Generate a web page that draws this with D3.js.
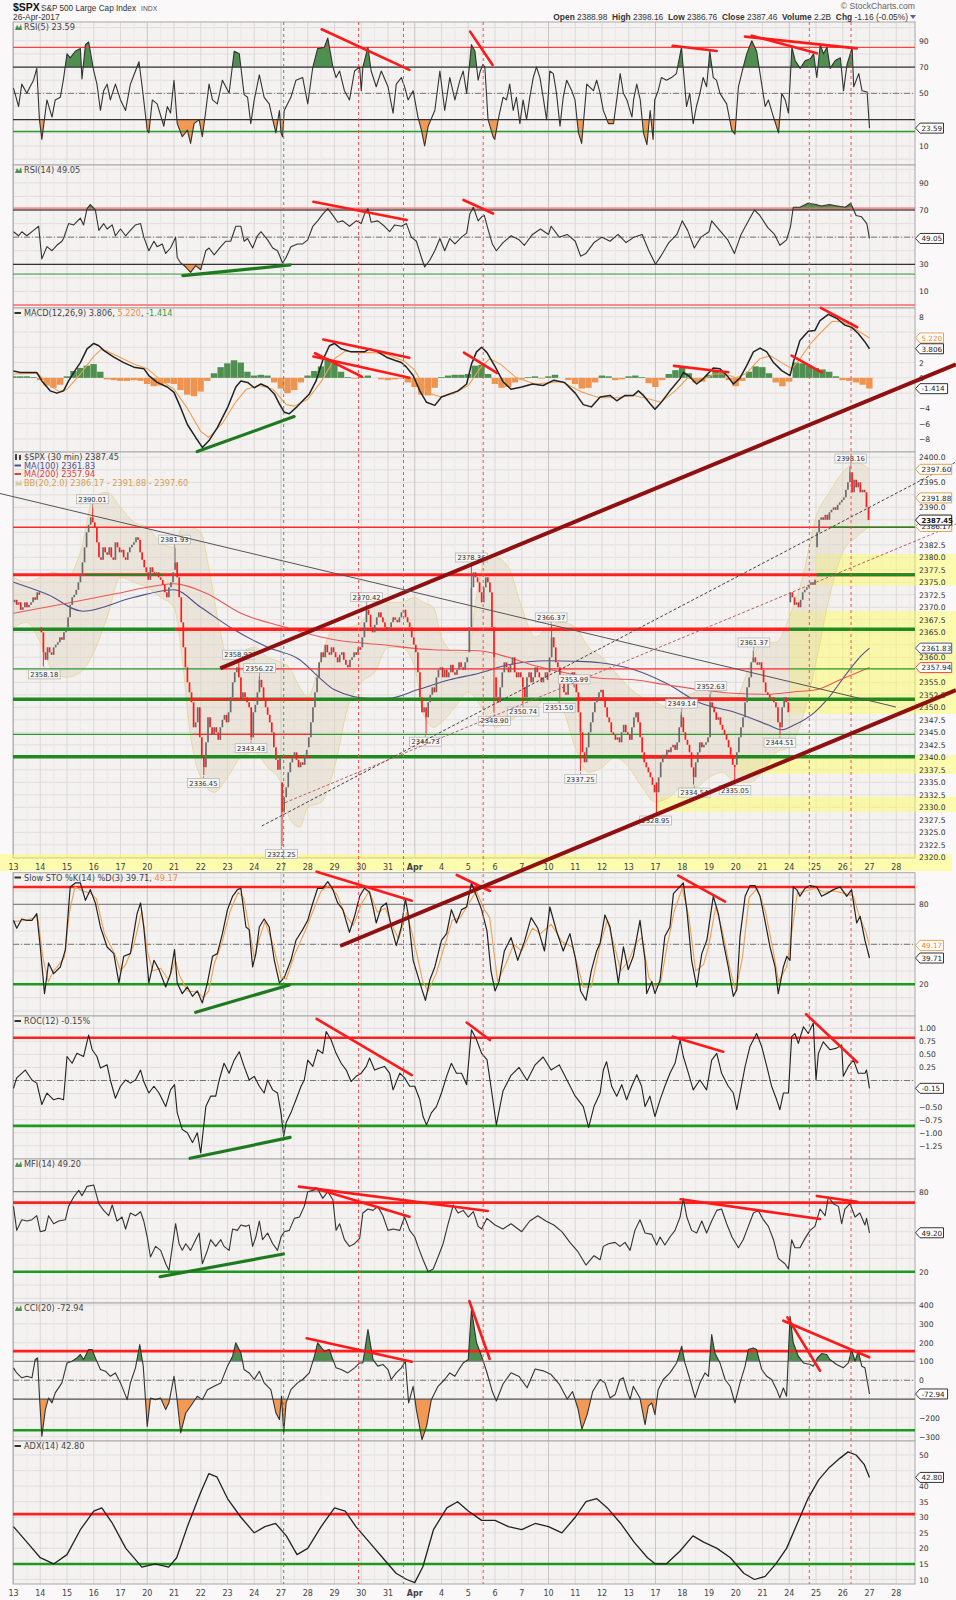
<!DOCTYPE html>
<html><head><meta charset="utf-8">
<script src="https://cdn.jsdelivr.net/npm/d3@7"></script>
<style>body{margin:0;background:#faf8f8}text{font-family:"DejaVu Sans",Verdana,sans-serif}</style>
</head><body><svg id="c" width="956" height="1600"></svg>
<script>
// ---------------- DATA ----------------
const dayLabels = ["13","14","15","16","17","20","21","22","23","24","27","28","29","30","31","Apr","4","5","6","7","10","11","12","13","17","18","19","20","21","24","25","26","27","28"];
const weekStarts = [0,5,10,15,20,24,29];

const dayOpens = [2371,2366,2366,2387,2381,2377,2377.5,2344,2347,2349,2335,2342,2361,2362,2365.5,2362.5,2358,2361,2356,2356,2357,2356,2353.5,2344.5,2335,2348,2344,2338.5,2357.5,2371,2382,2391.5];
const closes = [
2371.5,2370.5,2371,2369.5,2370,2371,2370,2370.5,2371,2372,2371.5,2373,2372.5,
2365,2361,2359.5,2362,2361,2360.5,2362,2362.5,2363,2364,2363.5,2365,2365.5,
2368,2370.5,2372,2372.5,2373.5,2375,2376.5,2379,2382,2385,2386.5,2388,2387,
2386,2383,2380,2379.5,2382,2381,2380.5,2382,2380,2379.5,2383,2382,2381,
2381.5,2380,2379.5,2381,2382,2382.5,2383,2384,2383.5,2381,2379.5,2378,2377,
2375.5,2378,2377,2376.5,2377,2376,2375.5,2374.5,2373,2372,2374,2375,2377,
2379,2376,2372,2367,2362,2358,2355,2353,2351,2346,2347,2350,2344,
2340,2338,2343,2348,2346,2344.5,2346,2345,2343.5,2346,2347.5,2348.5,2347,
2349,2352,2355,2357,2358,2356,2351.5,2353,2352,2351,2350,2344,2349,
2350.5,2353,2355.5,2354,2351.5,2350,2348.5,2347,2345,2342,2339.5,2337.5,2340,
2329,2332,2334,2337,2339,2340,2341,2339.5,2338,2339,2338.5,2340.5,2341.5,
2344,2347,2350,2353,2356,2359,2361,2360,2362.5,2361,2360.5,2362,2361,
2360,2359,2360.5,2361,2359.5,2358.5,2358,2359.5,2360,2361,2360.5,2362,2361.5,
2364,2367,2369.5,2368.5,2366,2365,2366.5,2368,2369,2368,2367,2366,2365.5,
2366,2367,2368,2367.5,2367,2368,2369,2369.5,2368,2367,2366,2364,2362.5,
2361,2357,2352,2349,2350,2348,2351,2352.5,2354,2353,2356,2357.5,2358,
2356,2357.5,2356,2357,2358.5,2357,2356.5,2357.5,2359,2358,2357.5,2359,2360,
2366,2374,2377,2376,2375,2373,2371,2374,2376,2375,2373,2366,2360,
2352,2351,2354,2357,2359,2358,2357,2358.5,2360,2357,2356,2357,2356,
2354,2352,2356,2357,2355,2356,2358,2357,2356,2355,2356,2357,2355.5,
2360,2364,2362,2359,2358,2356,2355,2353,2352.5,2355,2356,2357,2356,
2353,2349,2345,2341,2339,2342,2345,2347,2349,2351,2352,2353,2353.5,
2352,2350,2348,2347,2345,2344.5,2343.5,2344,2343,2345,2346.5,2345,2344.5,
2343.5,2346,2348,2349,2347,2344,2341,2339,2338,2337,2336,2334.5,2333,
2333,2336,2339,2340.5,2340,2341.5,2341,2342,2342.5,2341.5,2343,2346,2348.5,
2345,2343.5,2342.5,2341,2338,2336,2339,2341,2343,2342,2342.5,2343,2344,
2351,2350,2349,2347.5,2348,2346.5,2345.5,2344.5,2343.5,2342,2340.5,2338.5,2338,
2341,2344,2346,2348,2351,2354,2356,2359,2360,2359,2358.5,2359,2357.5,
2355,2353,2352.5,2351.5,2352,2351,2350,2347,2346,2350,2352,2351,2349,
2373,2372,2370.5,2371,2370,2371.5,2373,2373.5,2374,2374.5,2375,2374.5,2375.5,
2385,2387.5,2388,2387.5,2388.5,2387.5,2389,2389.5,2390,2389.5,2390.5,2391,2391.5,
2392,2393.5,2395,2397,2393,2395.5,2394,2395,2393,2393.5,2393,2390,2387.45];

const priceLabels = [["2390.01",2.95,2390.01,"h"],["2381.93",6.02,2381.93,"h"],["2358.18",1.15,2358.18,"l"],["2358.92",8.4,2358.92,"h"],
["2356.22",9.2,2356.22,"h"],["2343.43",8.88,2343.43,"l"],["2336.45",7.1,2336.45,"l"],["2322.25",10.02,2322.25,"l"],["2370.42",13.2,2370.42,"h"],
["2344.73",15.4,2344.73,"l"],["2378.36",17.12,2378.36,"h"],["2348.90",17.98,2348.90,"l"],["2350.74",19.05,2350.74,"l"],["2366.37",20.1,2366.37,"h"],
["2351.50",20.4,2351.50,"l"],["2353.99",20.96,2353.99,"h"],["2337.25",21.2,2337.25,"l"],["2328.95",24.0,2328.95,"l"],["2349.14",24.98,2349.14,"h"],
["2334.54",25.45,2334.54,"l"],["2352.63",26.07,2352.63,"h"],["2335.05",26.97,2335.05,"l"],["2361.37",27.68,2361.37,"h"],["2344.51",28.65,2344.51,"l"],["2398.16",31.3,2398.16,"h"]];

const ma100 = [[0,2375],[1.3,2372.5],[2.6,2369.2],[4.5,2372],[6.0,2373.5],[7.0,2370],[8.25,2365.5],[9.5,2362],[10.7,2359.5],[11.4,2356.1],[12,2353.5],[13.3,2351.8],[14,2351.8],[15.1,2353.5],[16.3,2355.5],[17.4,2356.8],[18.5,2358.5],[20,2359.3],[21,2359.2],[21.93,2358.9],[23.2,2357.5],[24.4,2354.8],[25.7,2350.8],[26.9,2349.1],[28.2,2346.5],[28.7,2345.5],[29.2,2346.5],[29.9,2348.8],[30.5,2352.1],[31.15,2356.8],[31.65,2360.1],[32,2361.83]];
const ma200 = [[0,2368.8],[2,2370.8],[3.9,2372.8],[5.1,2374.1],[6,2374.7],[7.2,2372.8],[8.5,2368.8],[10.1,2366.1],[12,2363.5],[13.8,2362.5],[15.7,2361.5],[17.4,2361.3],[18.5,2360],[19.5,2358.3],[21,2356.5],[21.93,2355.8],[23.2,2355.5],[24.4,2354.5],[25.7,2353.5],[26.9,2352.8],[28.2,2352.6],[29.2,2353.1],[30,2353.5],[30.9,2355.5],[32,2357.94]];
const bbUpper = [[0,2376],[0.5,2375],[1,2376],[1.5,2377],[2,2376],[2.5,2381],[3,2392],[3.5,2393],[4,2390],[4.5,2387],[5,2386],[5.5,2383],[6,2382],[6.3,2386],[6.6,2386],[7,2385],[7.3,2378],[7.7,2366],[8,2360],[8.5,2361],[9,2362],[9.5,2360],[10,2359],[10.3,2358],[10.7,2354],[11,2352],[11.5,2360],[12,2366],[12.5,2366],[13,2367],[13.5,2371],[14,2371],[14.5,2371],[15,2372],[15.3,2371],[15.7,2370],[16,2364],[16.5,2361],[17,2361],[17.3,2372],[17.7,2380],[18,2380],[18.5,2378],[19,2370],[19.5,2364],[20,2366],[20.5,2367],[21,2366],[21.5,2362],[22,2360],[22.5,2357],[23,2354],[23.5,2352],[24,2351],[24.5,2350],[25,2352],[25.5,2353],[26,2354],[26.5,2353],[27,2352],[27.5,2358],[28,2363],[28.5,2363],[29,2368],[29.5,2376],[30,2388],[30.5,2393],[31,2397],[31.5,2399],[32,2397.6]];
const bbLower = [[0,2366],[0.5,2367],[1,2363],[1.5,2357],[2,2356],[2.5,2357],[3,2361],[3.5,2368],[4,2376],[4.5,2375],[5,2374],[5.5,2372],[6,2370],[6.3,2360],[6.6,2345],[7,2336],[7.5,2333],[8,2336],[8.5,2340],[9,2341],[9.5,2338],[10,2335],[10.3,2328],[10.7,2326],[11,2330],[11.5,2331],[12,2338],[12.5,2350],[13,2355],[13.5,2357],[14,2362],[14.5,2362],[15,2358],[15.3,2349],[15.7,2346],[16,2347],[16.5,2350],[17,2353],[17.5,2350],[18,2346],[18.5,2347],[19,2349],[19.5,2350],[20,2352],[20.5,2350],[21,2342],[21.5,2337],[22,2338],[22.5,2340],[23,2338],[23.5,2334],[24,2331],[24.5,2332],[25,2334],[25.5,2334],[26,2336],[26.5,2337],[27,2335],[27.5,2335],[28,2337],[28.5,2341],[29,2342],[29.5,2348],[30,2359],[30.5,2372],[31,2381],[31.5,2384],[32,2386.17]];

const rsi5 = [[0,54],[0.19,40],[0.31,57],[0.5,50],[0.62,55],[0.75,60],[0.87,69],[0.97,30],[1.06,15],[1.25,45],[1.44,32],[1.56,45],[1.75,47],[1.87,61],[2.0,80],[2.12,77],[2.31,82],[2.5,84],[2.56,61],[2.69,87],[2.81,89],[3.0,67],[3.12,57],[3.25,37],[3.37,52],[3.5,57],[3.62,45],[3.81,57],[4.0,45],[4.19,37],[4.37,57],[4.56,67],[4.69,74],[4.81,55],[5.0,22],[5.06,20],[5.19,45],[5.37,42],[5.62,25],[5.75,40],[5.87,35],[6.0,60],[6.12,27],[6.31,17],[6.5,22],[6.62,12],[6.75,27],[6.94,30],[7.06,17],[7.19,37],[7.31,57],[7.44,45],[7.62,42],[7.81,60],[8.06,50],[8.25,82],[8.44,80],[8.5,70],[8.62,49],[8.75,47],[8.87,27],[9.0,45],[9.19,64],[9.37,47],[9.56,42],[9.69,30],[9.81,20],[9.94,37],[10.0,20],[10.06,17],[10.12,37],[10.37,47],[10.56,60],[10.81,62],[11.0,42],[11.19,70],[11.37,84],[11.62,85],[11.75,92],[11.94,70],[12.06,62],[12.19,67],[12.37,52],[12.56,45],[12.75,67],[12.94,70],[13.0,52],[13.06,70],[13.25,85],[13.37,67],[13.56,55],[13.75,67],[14.0,55],[14.19,35],[14.31,57],[14.5,62],[14.62,55],[14.75,45],[14.94,52],[15.12,32],[15.25,22],[15.37,10],[15.5,25],[15.75,37],[15.94,67],[16.12,37],[16.31,62],[16.5,45],[16.69,60],[16.81,67],[16.94,50],[17.12,87],[17.25,82],[17.37,60],[17.45,67],
[17.55,72],[17.62,70],[17.74,30],[17.93,17],[17.99,15],[18.12,30],[18.3,47],[18.43,45],[18.55,57],[18.68,37],[18.8,47],[18.93,27],[19.05,45],[19.18,30],[19.3,47],[19.43,62],[19.55,70],[19.68,62],[19.8,47],[19.93,30],[20.05,67],[20.18,65],[20.3,50],[20.43,25],[20.55,47],[20.68,60],[20.87,52],[20.99,45],[21.12,20],[21.24,12],[21.43,57],[21.68,52],[21.8,60],[21.93,50],[22.05,37],[22.24,27],[22.43,27],[22.55,45],[22.68,65],[22.8,50],[22.93,45],[23.12,32],[23.18,45],[23.3,57],[23.43,45],[23.55,20],[23.68,11],[23.8,37],[23.91,15],[23.97,45],[24.1,52],[24.22,62],[24.41,60],[24.6,62],[24.78,65],[24.97,85],[25.16,40],[25.28,50],[25.41,27],[25.53,40],[25.66,50],[25.78,62],[25.91,55],[26.03,82],[26.16,62],[26.28,60],[26.41,50],[26.66,42],[26.85,22],[26.97,19],[27.1,55],[27.28,70],[27.41,80],[27.6,90],[27.78,82],[27.97,57],[28.1,40],[28.22,45],[28.41,32],[28.6,20],[28.72,50],[28.85,45],[28.97,35],[29.1,85],[29.22,75],[29.41,69],[29.6,75],[29.78,76],[29.91,80],[30.03,62],[30.16,87],[30.28,80],[30.41,85],[30.53,69],[30.72,75],[30.91,77],[31.03,52],[31.16,72],[31.28,80],[31.35,85],[31.41,55],[31.6,65],[31.72,52],[31.91,51],[32.0,23.59]];

const rsi14 = [[0,54],[0.19,51],[0.31,54],[0.5,51],[0.75,55],[0.94,58],[1.06,34],[1.25,43],[1.44,40],[1.62,44],[1.81,47],[1.87,49],[2.06,60],[2.25,59],[2.5,64],[2.62,59],[2.75,71],[2.87,74],[3.06,70],[3.19,55],[3.37,60],[3.5,56],[3.69,59],[3.81,51],[4.0,56],[4.19,51],[4.37,55],[4.56,59],[4.75,60],[4.87,50],[5.06,40],[5.25,47],[5.37,43],[5.56,45],[5.69,38],[5.87,42],[6.06,50],[6.12,35],[6.25,31],[6.44,28],[6.62,24],[6.81,29],[7.0,26],[7.19,40],[7.31,42],[7.5,37],[7.75,43],[7.94,47],[8.12,47],[8.31,58],[8.5,58],[8.62,47],[8.75,49],[8.94,42],[9.12,51],[9.25,54],[9.5,48],[9.69,42],[9.87,40],[10.06,31],[10.19,35],[10.37,43],[10.62,45],[10.81,45],[11.0,48],[11.19,58],[11.37,62],[11.56,67],[11.75,71],[11.94,66],[12.12,61],[12.31,62],[12.56,58],[12.81,62],[13.0,60],[13.12,67],[13.25,71],[13.37,61],[13.62,62],[13.87,58],[14.06,54],[14.25,59],[14.5,58],[14.69,60],[14.87,50],[15.06,47],[15.25,35],[15.37,28],[15.56,33],[15.75,40],[15.94,49],[16.12,40],[16.31,49],[16.5,45],[16.75,50],[16.94,53],[17.06,67],[17.19,72],[17.37,62],[17.5,65],
[17.6,66],[17.75,55],[17.9,45],[18.05,40],[18.3,46],[18.6,51],[18.9,48],[19.1,44],[19.4,52],[19.7,56],[20.0,52],[20.1,58],[20.4,50],[20.7,52],[21.0,47],[21.2,36],[21.4,38],[21.7,46],[22.0,50],[22.3,47],[22.6,52],[22.9,46],[23.2,50],[23.5,52],[23.75,40],[24.0,30],[24.2,36],[24.5,46],[24.8,52],[25.0,62],[25.2,55],[25.45,42],[25.7,50],[26.0,54],[26.1,62],[26.4,55],[26.7,48],[26.95,38],[27.2,52],[27.5,63],[27.7,70],[27.9,66],[28.2,57],[28.45,52],[28.65,44],[28.9,48],[29.05,58],[29.15,72],[29.4,72],[29.7,75],[30.0,74],[30.2,73],[30.5,74],[30.8,73],[31.1,72],[31.3,75],[31.5,66],[31.7,65],[31.9,60],[32.0,49.05]];

const macdLine = [[0,0.9],[0.25,0.7],[0.5,0.7],[0.87,0.7],[1.06,-0.4],[1.37,-1.7],[1.62,-2.0],[1.87,-1.7],[2.06,-0.4],[2.31,1.0],[2.5,2.0],[2.75,3.8],[3.0,4.5],[3.19,4.2],[3.37,3.6],[3.75,2.7],[4.12,2.0],[4.5,1.4],[4.87,1.2],[5.06,0.3],[5.37,-0.6],[5.75,-1.2],[6.0,-1.9],[6.25,-3.9],[6.5,-6.1],[6.81,-7.8],[7.06,-9.1],[7.31,-8.2],[7.62,-6.5],[8.0,-3.9],[8.31,-1.2],[8.5,-0.4],[8.75,-0.6],[9.0,-1.3],[9.25,-0.8],[9.5,-1.2],[9.75,-2.1],[9.94,-3.4],[10.12,-4.5],[10.31,-4.7],[10.56,-3.9],[10.81,-3.0],[11.06,-2.1],[11.31,-0.4],[11.56,2.3],[11.81,4.2],[12.0,4.5],[12.25,3.8],[12.62,3.4],[12.94,3.4],[13.12,3.4],[13.31,3.8],[13.62,3.4],[13.94,2.7],[14.25,2.3],[14.5,2.0],[14.69,1.4],[14.94,0.3],[15.19,-1.7],[15.44,-3.2],[15.75,-3.6],[16.0,-2.5],[16.31,-2.1],[16.62,-1.7],[16.94,-0.8],[17.12,1.8],[17.31,3.4],[17.5,4.0],[17.7,3.3],[18.0,1.5],[18.3,-0.5],[18.6,-1.5],[19.0,-1.2],[19.4,-0.8],[19.8,-1.0],[20.2,-0.3],[20.6,-0.6],[21.0,-2.0],[21.3,-3.5],[21.6,-3.8],[21.93,-2.5],[22.3,-2.3],[22.55,-3.0],[22.86,-2.3],[23.17,-2.3],[23.36,-1.7],[23.55,-2.3],[23.8,-3.4],[23.98,-4.1],[24.17,-3.4],[24.54,-1.7],[24.92,-0.1],[25.04,0.7],[25.23,0.3],[25.54,-0.8],[25.79,-0.1],[26.16,1.3],[26.41,1.2],[26.72,0.1],[26.91,-0.8],[27.16,0.0],[27.41,1.6],[27.66,3.4],[27.91,3.9],[28.16,3.4],[28.41,2.0],[28.72,0.95],[29.03,0.3],[29.15,2.0],[29.4,4.9],[29.71,6.1],[29.96,6.2],[30.15,7.5],[30.46,8.3],[30.77,7.8],[31.08,6.9],[31.33,6.6],[31.58,5.8],[31.83,4.7],[32.0,3.806]];
const macdSignal = [[0,0.5],[0.9,0.6],[1.3,-0.8],[1.7,-1.8],[2.0,-1.5],[2.5,0.5],[3.0,2.8],[3.3,3.8],[3.8,3.0],[4.5,1.8],[5.0,1.2],[5.5,-0.3],[6.0,-1.5],[6.5,-4.0],[7.0,-7.0],[7.3,-7.8],[7.8,-6.0],[8.3,-3.2],[8.7,-1.5],[9.2,-1.0],[9.7,-1.5],[10.2,-3.5],[10.5,-3.7],[11.0,-2.8],[11.5,-0.5],[12.0,2.5],[12.4,3.5],[13.0,3.3],[13.5,3.3],[14.0,3.0],[14.6,2.2],[15.0,1.0],[15.5,-2.0],[16.0,-2.5],[16.5,-2.0],[17.0,-1.0],[17.5,1.5],[17.8,2.5],[18.2,1.8],[18.8,0.0],[19.5,-0.8],[20.5,-0.5],[21.2,-1.8],[21.9,-2.6],[22.5,-2.6],[23.2,-2.3],[23.8,-2.8],[24.2,-3.2],[24.8,-1.5],[25.2,0.0],[25.7,-0.3],[26.2,0.5],[26.6,0.5],[27.0,0.0],[27.4,0.6],[27.9,2.5],[28.3,2.9],[28.8,1.8],[29.1,1.2],[29.4,2.5],[29.8,4.5],[30.2,6.0],[30.6,7.4],[31.0,7.3],[31.5,6.3],[32.0,5.22]];
const macdHist = [0.2,0.2,0.2,0.1,-0.3,-1.0,-1.3,-0.9,0.2,0.9,1.3,1.6,1.8,0.8,-0.2,-0.3,-0.4,-0.4,-0.3,-0.4,-0.8,-1.1,-1.0,-0.7,-0.8,-1.6,-2.2,-2.4,-1.8,-0.4,0.6,1.4,1.9,2.3,2.0,0.8,0.3,0.4,0.3,-0.6,-1.4,-2.0,-1.6,-0.6,0.3,0.9,1.5,2.3,2.0,0.8,0.1,-0.1,0.1,0.3,0.0,-0.2,-0.3,-0.2,-0.1,-0.6,-1.2,-2.2,-2.3,-1.3,0.1,0.3,0.4,0.4,0.5,1.6,1.7,0.5,-0.8,-1.3,-1.2,-0.6,-0.2,0.1,0.2,-0.1,0.2,0.4,0.0,-0.3,-0.8,-1.4,-1.3,-0.6,0.3,0.2,-0.3,-0.2,0.2,0.3,0.1,-0.7,-1.2,-0.3,0.5,1.0,1.3,0.6,-0.6,-0.5,0.4,0.9,0.7,-0.3,-1.1,-0.4,0.8,1.5,1.4,0.6,-0.6,-1.1,-0.5,2.0,1.9,1.6,1.3,1.1,0.8,0.2,-0.3,-0.4,-0.6,-0.9,-1.4];

const stoK = [[0,68],[0.12,62],[0.31,69],[0.5,68],[0.69,68],[0.87,73],[1.0,48],[1.16,13],[1.31,36],[1.5,28],[1.75,33],[1.94,46],[2.12,93],[2.31,96],[2.5,96],[2.69,83],[2.87,91],[3.06,81],[3.25,63],[3.5,48],[3.75,43],[3.94,21],[4.12,41],[4.37,43],[4.62,73],[4.75,81],[4.87,63],[5.06,21],[5.25,38],[5.44,31],[5.69,18],[5.87,28],[6.02,46],[6.12,21],[6.31,13],[6.5,18],[6.69,11],[6.87,15],[7.06,6],[7.25,21],[7.44,41],[7.62,43],[7.81,58],[8.0,76],[8.19,86],[8.37,91],[8.5,92],[8.69,63],[8.81,61],[8.94,33],[9.06,43],[9.19,63],[9.37,69],[9.56,63],[9.75,38],[9.94,21],[10.12,25],[10.37,38],[10.56,53],[10.81,61],[11.0,68],[11.19,81],[11.37,92],[11.56,92],[11.75,97],[11.94,91],[12.12,81],[12.31,76],[12.56,59],[12.75,71],[12.94,86],[13.12,92],[13.31,89],[13.44,78],[13.56,66],[13.75,78],[13.94,81],[14.12,63],[14.31,49],[14.5,63],[14.65,84],[14.75,73],[14.94,38],[15.12,26],[15.27,16],[15.4,8],[15.56,23],[15.75,33],[16.0,53],[16.19,58],[16.37,76],[16.56,66],[16.75,76],[16.94,78],[17.12,96],[17.31,86],[17.5,76],
[17.7,60],[17.85,30],[18.0,15],[18.15,22],[18.35,45],[18.6,55],[18.85,38],[19.1,52],[19.35,70],[19.6,62],[19.85,45],[20.05,78],[20.3,60],[20.55,45],[20.8,58],[21.0,40],[21.2,15],[21.4,8],[21.6,30],[21.8,45],
[21.93,51],[22.11,72],[22.3,63],[22.49,38],[22.61,21],[22.8,48],[22.98,31],[23.17,41],[23.42,68],[23.61,38],[23.67,13],[23.86,22],[23.98,13],[24.17,23],[24.35,56],[24.54,63],[24.67,88],[24.85,92],[25.04,96],[25.17,76],[25.35,38],[25.54,18],[25.73,43],[25.92,53],[26.16,86],[26.35,73],[26.54,51],[26.72,33],[26.91,11],[27.04,16],[27.16,56],[27.35,86],[27.53,94],[27.72,94],[27.91,86],[28.09,68],[28.28,48],[28.47,33],[28.59,13],[28.78,33],[28.91,41],[29.03,38],[29.15,93],[29.28,91],[29.4,86],[29.59,92],[29.78,94],[30.03,93],[30.21,86],[30.4,88],[30.65,91],[30.9,93],[31.15,86],[31.33,91],[31.52,66],[31.65,71],[31.83,53],[32.0,39.71]];
const stoD = [[0,67],[0.5,68],[0.9,71],[1.1,40],[1.3,22],[1.5,30],[1.9,40],[2.1,75],[2.3,93],[2.6,90],[2.9,88],[3.1,84],[3.4,58],[3.8,42],[4.0,30],[4.2,35],[4.5,50],[4.8,75],[5.0,45],[5.2,30],[5.5,32],[5.8,23],[6.05,38],[6.2,27],[6.5,15],[6.9,14],[7.1,10],[7.3,15],[7.5,35],[7.8,52],[8.1,75],[8.4,89],[8.6,85],[8.8,63],[9.0,40],[9.2,55],[9.4,67],[9.7,50],[10.0,25],[10.2,24],[10.5,42],[10.9,60],[11.2,75],[11.5,90],[11.8,94],[12.1,87],[12.4,72],[12.7,64],[13.0,80],[13.3,90],[13.6,74],[13.9,77],[14.2,62],[14.4,54],[14.7,74],[15.0,50],[15.3,22],[15.5,15],[15.8,28],[16.1,48],[16.4,68],[16.7,70],[17.0,80],[17.3,90],[17.6,76],[17.8,70],[18.1,22],[18.4,35],[18.7,50],[19.0,45],[19.4,62],[19.7,58],[20.1,65],[20.5,52],[20.9,48],[21.3,18],[21.6,18],[21.93,50],[22.2,68],[22.5,46],[22.7,30],[23.0,38],[23.3,52],[23.5,55],[23.75,25],[24.0,18],[24.2,22],[24.4,45],[24.7,75],[25.0,92],[25.25,70],[25.5,30],[25.8,35],[26.0,50],[26.25,78],[26.5,60],[26.8,30],[27.0,15],[27.25,40],[27.5,85],[27.8,92],[28.1,75],[28.4,45],[28.6,22],[28.9,33],[29.1,60],[29.3,88],[29.6,90],[30.0,92],[30.3,89],[30.7,90],[31.1,88],[31.4,86],[31.6,72],[31.85,60],[32.0,49.17]];

const roc = [[0,-0.15],[0.12,0.05],[0.44,0.2],[0.69,0.01],[0.87,-0.05],[1.06,-0.46],[1.25,-0.24],[1.5,-0.37],[1.69,-0.34],[1.87,-0.37],[2.0,0.46],[2.19,0.33],[2.37,0.52],[2.62,0.46],[2.81,0.87],[2.94,0.59],[3.12,0.46],[3.25,0.24],[3.5,0.3],[3.62,0.01],[3.81,-0.34],[4.0,-0.11],[4.19,0.01],[4.37,-0.05],[4.56,0.01],[4.75,0.2],[4.87,-0.02],[5.06,-0.24],[5.25,-0.11],[5.44,-0.24],[5.69,-0.5],[5.87,-0.18],[6.02,-0.08],[6.12,-0.62],[6.31,-0.94],[6.5,-1.0],[6.69,-1.19],[6.87,-1.0],[7.0,-1.39],[7.19,-0.5],[7.37,-0.3],[7.56,-0.3],[7.69,0.01],[7.87,0.33],[8.06,0.14],[8.25,0.39],[8.44,0.55],[8.62,0.27],[8.81,0.01],[9.0,0.08],[9.19,-0.11],[9.37,-0.24],[9.5,0.01],[9.69,-0.18],[9.87,-0.24],[10.0,-0.62],[10.1,-1.07],[10.19,-0.81],[10.37,-0.62],[10.56,-0.37],[10.75,-0.11],[10.87,0.01],[11.0,0.39],[11.19,0.27],[11.37,0.59],[11.56,0.52],[11.69,0.94],[11.87,0.78],[12.06,0.52],[12.25,0.33],[12.44,0.2],[12.62,-0.02],[12.81,0.08],[13.0,0.14],[13.19,0.27],[13.31,0.43],[13.5,0.2],[13.69,0.24],[13.87,0.27],[14.06,0.14],[14.19,-0.18],[14.44,0.14],[14.62,0.05],[14.81,-0.11],[15.0,-0.11],[15.19,-0.37],[15.31,-0.69],[15.44,-0.85],[15.62,-0.62],[15.81,-0.5],[16.0,-0.24],[16.19,0.08],[16.37,0.33],[16.56,0.14],[16.75,0.14],[16.94,-0.08],[17.12,0.97],[17.31,0.78],[17.5,0.52],
[17.7,0.4],[17.9,-0.3],[18.05,-0.85],[18.3,-0.2],[18.6,0.1],[18.9,0.25],[19.2,0.0],[19.5,0.3],[19.8,0.45],[20.1,0.2],[20.4,0.3],[20.7,0.0],[21.0,-0.3],[21.3,-0.5],[21.5,-0.9],[21.7,-0.5],
[21.93,-0.24],[22.05,0.2],[22.17,0.36],[22.36,-0.11],[22.55,-0.3],[22.74,-0.08],[22.92,-0.37],[23.11,-0.11],[23.3,0.11],[23.48,-0.11],[23.61,-0.5],[23.79,-0.3],[23.98,-0.69],[24.17,-0.37],[24.35,-0.11],[24.54,0.14],[24.73,0.33],[24.92,0.78],[25.04,0.46],[25.23,0.14],[25.41,-0.18],[25.66,0.01],[25.91,-0.18],[26.1,0.39],[26.29,0.52],[26.47,0.14],[26.72,-0.11],[26.91,-0.24],[27.04,-0.56],[27.16,-0.24],[27.35,0.27],[27.53,0.65],[27.78,0.9],[27.97,0.65],[28.16,0.27],[28.34,-0.11],[28.53,-0.37],[28.65,-0.56],[28.78,-0.24],[28.97,-0.24],[29.09,0.84],[29.21,0.9],[29.34,0.71],[29.53,1.03],[29.71,0.9],[29.9,1.1],[30.0,0.01],[30.09,0.52],[30.27,0.74],[30.52,0.59],[30.77,0.62],[30.96,0.68],[31.02,0.08],[31.21,0.27],[31.4,0.39],[31.58,0.14],[31.83,0.14],[31.89,0.2],[32.0,-0.15]];

const mfi = [[0,69],[0.12,51],[0.31,59],[0.5,58],[0.69,59],[0.87,62],[1.0,50],[1.19,51],[1.31,62],[1.5,56],[1.69,58],[1.94,59],[2.06,69],[2.25,76],[2.44,81],[2.56,77],[2.75,84],[3.0,85],[3.19,71],[3.37,66],[3.56,62],[3.69,70],[3.87,58],[4.06,61],[4.19,52],[4.37,64],[4.56,62],[4.75,65],[4.87,58],[5.0,46],[5.12,31],[5.31,39],[5.5,36],[5.69,26],[5.81,21],[5.94,39],[6.06,56],[6.19,41],[6.31,36],[6.44,41],[6.62,36],[6.81,44],[6.94,49],[7.06,26],[7.25,36],[7.37,44],[7.56,39],[7.75,44],[7.87,39],[8.06,36],[8.19,52],[8.37,51],[8.5,55],[8.69,54],[8.81,55],[8.94,39],[9.06,46],[9.19,58],[9.31,44],[9.5,49],[9.69,41],[9.87,36],[10.0,46],[10.12,50],[10.31,51],[10.5,60],[10.69,61],[10.87,69],[11.0,80],[11.19,81],[11.37,82],[11.56,75],[11.75,80],[11.94,74],[12.06,51],[12.19,56],[12.37,44],[12.56,39],[12.75,41],[12.94,45],[13.06,64],[13.25,67],[13.44,66],[13.62,69],[13.81,62],[14.0,51],[14.19,52],[14.44,51],[14.62,61],[14.81,51],[15.0,46],[15.12,39],[15.31,29],[15.5,20],[15.69,22],[15.87,31],[16.06,41],[16.25,56],[16.44,70],[16.62,64],[16.81,66],[17.0,61],[17.19,65],[17.37,54],[17.5,52],
[17.7,60],[18.0,55],[18.3,52],[18.6,56],[19.0,50],[19.3,58],[19.6,62],[19.9,58],[20.2,55],[20.5,50],[20.8,42],[21.1,35],[21.4,25],[21.7,32],
[21.93,29],[22.05,39],[22.24,41],[22.49,42],[22.67,39],[22.86,42],[23.05,36],[23.23,51],[23.42,59],[23.61,49],[23.86,48],[24.04,40],[24.17,46],[24.35,40],[24.54,46],[24.73,51],[24.92,61],[25.04,75],[25.17,61],[25.35,51],[25.54,49],[25.73,58],[25.91,49],[26.1,58],[26.29,66],[26.47,67],[26.66,56],[26.86,46],[27.1,38],[27.28,44],[27.47,54],[27.66,64],[27.84,66],[28.03,59],[28.22,54],[28.41,44],[28.59,30],[28.84,26],[28.97,22],[29.09,44],[29.21,38],[29.4,38],[29.59,45],[29.78,51],[29.96,54],[30.15,67],[30.34,62],[30.46,76],[30.65,71],[30.84,69],[30.96,56],[31.08,67],[31.27,71],[31.46,61],[31.64,64],[31.83,55],[31.89,60],[32.0,49.2]];

const cci = [[0,66],[0.12,39],[0.31,13],[0.5,21],[0.69,13],[0.81,110],[0.9,119],[0.97,-85],[1.06,-298],[1.19,-156],[1.31,-94],[1.44,-120],[1.56,-67],[1.81,-14],[2.0,92],[2.19,101],[2.37,119],[2.5,137],[2.62,110],[2.81,163],[2.94,163],[3.06,119],[3.25,57],[3.44,48],[3.62,21],[3.81,39],[4.0,-14],[4.25,-103],[4.37,-14],[4.56,66],[4.72,190],[4.85,75],[5.0,-245],[5.12,-94],[5.31,-103],[5.5,-94],[5.69,-156],[5.81,-120],[6.0,21],[6.1,-85],[6.25,-280],[6.44,-174],[6.62,-138],[6.87,-85],[7.06,-103],[7.25,-50],[7.5,-32],[7.75,-14],[8.0,75],[8.19,128],[8.31,199],[8.5,145],[8.62,57],[8.81,39],[9.0,4],[9.19,48],[9.37,-14],[9.62,-50],[9.81,-174],[9.94,-209],[10.02,-85],[10.1,-280],[10.19,-120],[10.37,-50],[10.62,-14],[10.81,4],[11.06,39],[11.25,128],[11.37,199],[11.62,154],[11.81,163],[11.94,110],[12.06,66],[12.25,57],[12.5,39],[12.75,66],[12.94,92],[13.06,92],[13.25,270],[13.44,110],[13.62,75],[13.81,84],[14.0,57],[14.12,4],[14.31,39],[14.5,66],[14.65,101],[14.77,-120],[14.94,-32],[15.06,-156],[15.27,-316],[15.44,-245],[15.62,-103],[15.87,-32],[16.12,4],[16.31,39],[16.5,21],[16.69,66],[16.81,92],[17.0,110],[17.12,376],[17.31,199],[17.5,128],
[17.7,40],[17.9,-60],[18.05,-110],[18.3,-20],[18.6,40],[18.9,20],[19.2,-40],[19.5,60],[19.8,50],[20.1,30],[20.4,-20],[20.7,-100],[20.9,-60],[21.1,-150],[21.25,-260],[21.45,-180],[21.65,-60],
[21.93,4],[22.11,-14],[22.3,-94],[22.49,-76],[22.67,4],[22.8,13],[22.92,-50],[23.05,-103],[23.17,-32],[23.42,-94],[23.61,-236],[23.73,-138],[23.86,-120],[23.98,-183],[24.1,-50],[24.29,4],[24.54,39],[24.79,92],[24.98,181],[25.1,92],[25.29,4],[25.48,-94],[25.66,-14],[25.85,39],[25.98,21],[26.1,243],[26.22,145],[26.41,92],[26.6,4],[26.79,-32],[26.97,-120],[27.16,-14],[27.35,75],[27.47,163],[27.66,172],[27.78,163],[27.97,57],[28.16,21],[28.34,4],[28.53,-50],[28.65,-94],[28.78,-41],[28.9,-85],[29.03,340],[29.15,199],[29.34,128],[29.53,92],[29.78,84],[29.9,75],[30.05,119],[30.21,142],[30.4,137],[30.52,110],[30.77,84],[31.02,66],[31.21,92],[31.33,163],[31.46,101],[31.58,154],[31.71,75],[31.83,66],[32.0,-72.94]];

const adx = [[0,27],[0.5,22],[1.0,17],[1.5,15],[2.0,18],[2.5,26],[3.0,32],[3.3,33],[3.7,28],[4.2,20],[4.8,14],[5.3,15],[5.8,14],[6.1,17],[6.5,27],[7.0,38],[7.3,44],[7.6,43],[8.0,36],[8.5,30],[9.0,25],[9.4,27],[9.8,28],[10.2,24],[10.6,18],[11.0,20],[11.5,27],[12.0,33],[12.4,32],[12.8,27],[13.3,22],[13.8,17],[14.3,12],[14.7,10],[15.0,9],[15.3,14],[15.7,26],[16.2,33],[16.6,35],[17.0,32],[17.5,29],[18.0,29],[18.5,27],[19.0,26],[19.5,28],[20.0,27],[20.5,25],[21.0,30],[21.4,35],[21.8,36],[22.2,33],[22.7,28],[23.2,22],[23.7,17],[24.0,15],[24.4,15],[24.9,19],[25.4,24],[25.8,22],[26.3,20],[26.8,17],[27.3,12],[27.7,10],[28.1,11],[28.5,15],[28.9,20],[29.3,28],[29.7,36],[30.1,42],[30.5,46],[30.9,49],[31.2,51],[31.5,50],[31.8,47],[32.0,42.8]];

// annotation lines: [t0,v0,t1,v1,color]
const rsi5Marks = [[11.52,98.7,14.80,67.8,"r"],[17.07,96.9,17.91,71.6,"r"],[24.64,86.1,26.29,82.2,"r"],[27.35,93.1,31.52,84.2,"r"],[27.6,93.8,30.03,80.4,"r"]];
const rsi14Marks = [[6.33,21.6,10.34,29.5,"g"],[11.21,76.1,14.7,62.6,"r"],[16.82,77.4,17.93,67.4,"r"]];
const macdMarks = [[11.58,5.01,14.8,2.62,"r"],[11.21,2.79,14.8,0,"r"],[11.27,3.22,13.02,0.17,"r"],[6.87,-9.65,10.49,-5.07,"g"],[16.84,3.31,18.07,0.64,"r"],[24.69,1.57,26.72,0.73,"r"],[29.09,2.92,30.21,0.73,"r"],[30.18,9.16,31.54,6.62,"r"]];
const stoMarks = [[11.33,104.5,14.89,82.7,"r"],[16.57,102,17.81,90,"r"],[6.81,-1,10.31,19.5,"g"],[24.85,101.5,26.6,82,"r"]];
const rocMarks = [[11.33,1.18,14.89,0.105,"r"],[16.94,1.11,17.81,0.776,"r"],[6.6,-1.49,10.34,-1.09,"g"],[24.64,0.84,26.53,0.55,"r"],[29.63,1.27,31.54,0.35,"r"]];
const mfiMarks = [[10.67,83.8,17.73,65.5,"r"],[11.27,82.5,14.8,61.2,"r"],[5.48,16.25,10.09,33.3,"g"],[24.94,74.3,30.15,59.5,"r"],[30.03,76.8,31.54,72.5,"r"]];
const cciMarks = [[10.96,223,14.89,98.6,"r"],[17.04,421,17.8,113,"r"],[28.93,334.6,30.15,50.8,"r"],[28.78,316.6,31.99,122,"r"]];

const priceTrends = [
 {p:[[7.73,2357.8],[35.23,2418.6]],k:"thick"},
 {p:[[12.21,2302.26],[35.23,2353.46]],k:"thick"},
 {p:[[-0.505,2392.76],[32.99,2350.06]],k:"thin"},
 {p:[[9.28,2326.26],[35.23,2399.06]],k:"dashK"},
 {p:[[10.15,2330.92],[35.23,2386.62]],k:"dashR"}];
const priceH = [[2386,-0.1,33.7,"#ff2a2a",1.4],[2386,30.52,33.7,"#1f8a1f",1.4],
 [2376.5,-0.1,33.7,"#ff2020",3],[2376.5,2.67,5.59,"#1f8a1f",2],[2376.5,30.03,33.7,"#1f8a1f",3],
 [2365.6,-0.1,6.04,"#1f8a1f",3.5],[2365.6,6.04,29.03,"#ff2020",3.5],[2365.6,29.03,33.7,"#1f8a1f",3.5],
 [2357.7,-0.1,7.79,"#2a9a2a",1.2],[2357.7,7.79,29.03,"#ff2a2a",1.2],[2357.7,29.03,33.7,"#2a9a2a",1.2],
 [2351.6,-0.1,33.7,"#1f8a1f",3.5],[2351.6,6.6,11.27,"#ff2020",2.5],[2351.6,21.03,27.35,"#ff2020",3.5],
 [2344.6,-0.1,33.7,"#2a9a2a",1.2],[2344.6,6.7,11.15,"#ff2a2a",1.2],
 [2340.1,-0.1,33.7,"#1f8a1f",3.5],[2340.1,10.0,11.15,"#ff2020",1.5],[2340.1,23.48,27.04,"#ff2020",3.5]];
const zones = [[29.96,35.23,2380.66,2374.32],[29.03,35.23,2369.26,2348.66],[27.04,35.23,2340.46,2336.66],[23.98,35.23,2332.12,2329.12],[-0.505,35.08,2320.66,2317.26]];
const redVerticals = [12.9,14.58,17.56,29.75,31.31];
const greenVerticals = [10.1];

const lastBoxes = {
 rsi5:[[23.59,"23.59","#333"]],
 rsi14:[[49.05,"49.05","#333"]],
 macd:[[5.22,"5.220","#f0a050","#e08a30"],[3.806,"3.806","#333"],[-1.414,"-1.414","#333"]],
 price:[[2397.6,"2397.60","#e0a050"],[2391.88,"2391.88","#e0a050"],[2386.17,"2386.17","#e0a050"],[2387.45,"2387.45","#222","#111",true],[2361.83,"2361.83","#50508a"],[2357.94,"2357.94","#ee4444"]],
 sto:[[49.17,"49.17","#f0a050","#e08a30"],[39.71,"39.71","#333"]],
 roc:[[-0.15,"-0.15","#333"]],
 mfi:[[49.2,"49.20","#333"]],
 cci:[[-72.94,"-72.94","#333"]],
 adx:[[42.8,"42.80","#333"]]
};

// ---------------- DRAW ----------------
const svg = d3.select("#c");
const X0=13, X1=915;
const x = d3.scaleLinear().domain([0,34]).range([13.5,13.5+34*26.75]);
svg.append("rect").attr("width",956).attr("height",1600).attr("fill","#faf8f8");

const panels = {
 rsi5:{top:22,bottom:165,y:d3.scaleLinear().domain([10,90]).range([146,40.7]),grid:d3.range(0,101,10),ticks:[90,70,50,30,10],f:d3.format("d")},
 rsi14:{top:165,bottom:308,y:d3.scaleLinear().domain([30,70]).range([264.3,210]),grid:d3.range(0,101,10),ticks:[90,70,50,30,10],f:d3.format("d")},
 macd:{top:308,bottom:452,y:d3.scaleLinear().domain([-8,8]).range([439,316.7]),grid:d3.range(-8,9,2),ticks:d3.range(-8,9,2),f:d3.format("d")},
 price:{top:452,bottom:858,y:d3.scaleLinear().domain([2320,2400]).range([857.3,457.3]),grid:d3.range(2320,2401,2.5),ticks:d3.range(2320,2401,2.5),f:d3.format(".1f")},
 sto:{top:872.7,bottom:1016,y:d3.scaleLinear().domain([20,80]).range([984.3,904.3]),grid:d3.range(0,101,10),ticks:[80,50,20],f:d3.format("d")},
 roc:{top:1016,bottom:1159,y:d3.scaleLinear().domain([-1,1]).range([1132.7,1028.3]),grid:d3.range(-1.25,1.26,0.25),ticks:d3.range(-1.25,1.01,0.25),f:d3.format(".2f")},
 mfi:{top:1159,bottom:1303,y:d3.scaleLinear().domain([20,80]).range([1271.7,1191.7]),grid:d3.range(0,101,10),ticks:[80,50,20],f:d3.format("d")},
 cci:{top:1303,bottom:1441,y:d3.scaleLinear().domain([-300,400]).range([1436.7,1305]),grid:d3.range(-300,401,100),ticks:d3.range(-300,401,100),f:d3.format("d")},
 adx:{top:1441,bottom:1584,y:d3.scaleLinear().domain([10,50]).range([1579.5,1455]),grid:d3.range(10,51,5),ticks:d3.range(10,51,5),f:d3.format("d")}
};

const defs = svg.append("defs");
const layerBg = svg.append("g");
const layerZone = svg.append("g");
const layerData = svg.append("g");
const layerAxis = svg.append("g");
const layerTop = svg.append("g");

let cid=0;
function clipRect(x0,y0,x1,y1){const id="cp"+(cid++);defs.append("clipPath").attr("id",id).append("rect").attr("x",x0).attr("y",y0).attr("width",x1-x0).attr("height",y1-y0);return "url(#"+id+")";}

Object.entries(panels).forEach(([key,p])=>{
  const g = layerBg.append("g");
  g.append("rect").attr("x",X0).attr("y",p.top).attr("width",X1-X0).attr("height",p.bottom-p.top).attr("fill","#f4f1f1");
  const gc = g.append("g").attr("clip-path",clipRect(X0,p.top,X1,p.bottom));
  p.grid.forEach(v=>{const yy=p.y(v); gc.append("line").attr("x1",X0).attr("x2",X1).attr("y1",yy).attr("y2",yy).attr("stroke","#e2dede").attr("stroke-width",1);});
  d3.range(0,34).forEach(k=>{
    gc.append("line").attr("x1",x(k+0.5)).attr("x2",x(k+0.5)).attr("y1",p.top).attr("y2",p.bottom).attr("stroke","#ebe7e7");
    gc.append("line").attr("x1",x(k)).attr("x2",x(k)).attr("y1",p.top).attr("y2",p.bottom).attr("stroke",weekStarts.includes(k)?"#c9c5c5":"#dcd8d8");
  });
  g.append("rect").attr("x",X0).attr("y",p.top).attr("width",X1-X0).attr("height",p.bottom-p.top).attr("fill","none").attr("stroke","#a8a8a8");
  p.clip = clipRect(X0,p.top,X1,p.bottom);
  p.g = layerData.append("g").attr("clip-path",p.clip);
  const boxYs = (lastBoxes[key]||[]).map(b=>p.y(b[0]));
  p.ticks.forEach(v=>{
    const yy=p.y(v);
    if(boxYs.some(by=>Math.abs(by-yy)<8.5)) return;
    layerAxis.append("text").attr("x",919).attr("y",yy+3).attr("font-size",7.6).attr("fill","#333").text(p.f(v));
  });
});

[869.5,1596].forEach(yy=>{
  dayLabels.forEach((s,k)=>{layerAxis.append("text").attr("x",x(k)).attr("y",yy).attr("text-anchor","middle").attr("font-size",8).attr("font-weight",s==="Apr"?"bold":"normal").attr("fill","#444").text(s);});
});

const line = (y)=>d3.line().x(d=>x(d[0])).y(d=>y(d[1]));
function hline(p,v,col,w,dash){const yy=p.y(v);p.g.append("line").attr("x1",X0).attr("x2",X1).attr("y1",yy).attr("y2",yy).attr("stroke",col).attr("stroke-width",w).attr("stroke-dasharray",dash||null);}
function drawSeries(p,data,col,w){p.g.append("path").datum(data).attr("d",line(p.y)).attr("fill","none").attr("stroke",col).attr("stroke-width",w).attr("stroke-linejoin","round");}
function fillBeyond(p,data,thr,up,col){
  const yt=p.y(thr);
  const cl = up?clipRect(X0,p.top,X1,yt):clipRect(X0,yt,X1,p.bottom);
  p.g.append("g").attr("clip-path",cl).append("path").datum(data)
   .attr("d",d3.area().x(d=>x(d[0])).y0(yt).y1(d=>p.y(d[1]))).attr("fill",col);
}
const GREEN="#4f8f4f", ORANGE="#f29a55", DASHDOT="6,2,1,2";

let p=panels.rsi5;
fillBeyond(p,rsi5,70,true,GREEN); fillBeyond(p,rsi5,30,false,ORANGE);
hline(p,85,"#ff4040",1.3); hline(p,70,"#333",1.2); hline(p,50,"#777",1,DASHDOT); hline(p,30,"#333",1.2); hline(p,21,"#2f9a2f",1.3);
drawSeries(p,rsi5,"#333",1.1);
p=panels.rsi14;
fillBeyond(p,rsi14,70,true,GREEN); fillBeyond(p,rsi14,30,false,ORANGE);
hline(p,70,"#555",1.4); hline(p,71.4,"#ff6a6a",1.3); hline(p,50,"#777",1,DASHDOT); hline(p,30,"#333",1.2); hline(p,22.8,"#2f9a2f",1); hline(p,0,"#ff6a6a",1.6);
drawSeries(p,rsi14,"#333",1.1);
p=panels.macd;
const hstep=0.25;
p.g.selectAll("rect.h").data(macdHist).join("rect")
 .attr("x",(d,i)=>x(i*hstep-hstep/2)).attr("width",x(hstep)-x(0)-0.3)
 .attr("y",d=>Math.min(p.y(0),p.y(d))).attr("height",d=>Math.abs(p.y(d)-p.y(0)))
 .attr("fill",d=>d>=0?"#4f8f4f":"#ee9450");
drawSeries(p,macdSignal,"#f0a050",1.1);
drawSeries(p,macdLine,"#222",1.5);

p=panels.price;
const py=p.y;
zones.forEach(z=>{layerZone.append("rect").attr("x",x(z[0])).attr("width",x(z[1])-x(z[0])).attr("y",py(z[2])).attr("height",py(z[3])-py(z[2])).attr("fill","#ffff55").attr("opacity",0.45);});
const lu = d3.line().curve(d3.curveMonotoneX).x(d=>x(d[0])).y(d=>py(d[1]));
const lowerRev = bbLower.slice().reverse();
p.g.append("path").attr("d", lu(bbUpper) + "L" + lu(lowerRev).slice(1) + "Z").attr("fill","#dcd2bc").attr("opacity",0.4);
[bbUpper,bbLower].forEach(b=>p.g.append("path").datum(b).attr("d",lu).attr("fill","none").attr("stroke","#e6d48a").attr("stroke-width",0.8));
p.g.append("path").datum(ma100).attr("d",lu).attr("fill","none").attr("stroke","#50508a").attr("stroke-width",1.1);
p.g.append("path").datum(ma200).attr("d",lu).attr("fill","none").attr("stroke","#ee5555").attr("stroke-width",1.1);
priceH.forEach(h=>{p.g.append("line").attr("x1",Math.max(X0,x(h[1]))).attr("x2",Math.min(X1,x(h[2]))).attr("y1",py(h[0])).attr("y2",py(h[0])).attr("stroke",h[3]).attr("stroke-width",h[4]);});
const bars = closes.map((c,i)=>{const day=Math.floor(i/13);const o=(i%13===0)?dayOpens[day]:closes[i-1];return {t:day+(i%13+0.5)/13,o:o,c:c};});
priceLabels.forEach(l=>{
  const i=Math.min(closes.length-1,Math.floor(l[1]*13)); const b=bars[i];
  const edge = l[3]==="h"?Math.max(b.o,b.c):Math.min(b.o,b.c);
  p.g.append("line").attr("x1",x(b.t)).attr("x2",x(b.t)).attr("y1",py(edge)).attr("y2",py(l[2])).attr("stroke",b.c>=b.o?"#666":"#ff2020").attr("stroke-width",1);
});
p.g.selectAll("rect.c").data(bars).join("rect")
 .attr("x",d=>x(d.t)-0.8).attr("width",1.7)
 .attr("y",d=>py(Math.max(d.o,d.c))).attr("height",d=>Math.max(1,Math.abs(py(d.o)-py(d.c))))
 .attr("fill",d=>d.c>=d.o?"#6a6a6a":"#ff1a1a");
priceLabels.forEach(l=>{
  const cx=x(l[1]); const yy=py(l[2]); const w=l[0].length*4.1+3;
  const by = l[3]==="h"? yy-12.5 : yy+3.5;
  layerData.append("line").attr("x1",cx).attr("x2",cx).attr("y1",l[3]==="h"?yy-3.5:yy+1).attr("y2",l[3]==="h"?yy:yy+3.5).attr("stroke","#999");
  layerData.append("rect").attr("x",cx-w/2).attr("y",by).attr("width",w).attr("height",9).attr("fill","#f6f6f6").attr("stroke","#b0b0b0").attr("stroke-width",0.7);
  layerData.append("text").attr("x",cx).attr("y",by+7).attr("text-anchor","middle").attr("font-size",6.8).attr("fill","#333").text(l[0]);
});

p=panels.sto;
hline(p,80,"#888",1.2); hline(p,50,"#777",1,DASHDOT);
hline(p,93,"#ff2020",2.6); hline(p,20,"#1c9a1c",2.6);
drawSeries(p,stoD,"#f0a050",1.1); drawSeries(p,stoK,"#222",1.2);
p=panels.roc;
hline(p,0,"#777",1,DASHDOT); hline(p,0.82,"#ff2020",2.6); hline(p,-0.87,"#1c9a1c",2.6);
drawSeries(p,roc,"#222",1.1);
p=panels.mfi;
hline(p,80,"#888",1.2); hline(p,71.8,"#ff2020",2.6); hline(p,20,"#1c9a1c",2.6);
drawSeries(p,mfi,"#333",1.1);
p=panels.cci;
fillBeyond(p,cci,100,true,GREEN); fillBeyond(p,cci,-100,false,ORANGE);
hline(p,100,"#888",1.2); hline(p,-100,"#555",1.2); hline(p,0,"#777",1,DASHDOT);
hline(p,155,"#ff2020",2.6); hline(p,-266,"#1c9a1c",2.6);
drawSeries(p,cci,"#333",1.1);
p=panels.adx;
hline(p,31,"#ff2020",2.6); hline(p,15,"#1c9a1c",2.6);
drawSeries(p,adx,"#222",1.3);

redVerticals.forEach(t=>layerTop.append("line").attr("x1",x(t)).attr("x2",x(t)).attr("y1",22).attr("y2",1584).attr("stroke","#ff4a4a").attr("stroke-width",1).attr("stroke-dasharray","3,3"));
greenVerticals.forEach(t=>layerTop.append("line").attr("x1",x(t)).attr("x2",x(t)).attr("y1",22).attr("y2",1584).attr("stroke","#4a9a4a").attr("stroke-width",1).attr("stroke-dasharray","3,3"));

function marks(p,list){list.forEach(m=>{layerTop.append("line").attr("x1",x(m[0])).attr("y1",p.y(m[1])).attr("x2",x(m[2])).attr("y2",p.y(m[3])).attr("stroke",m[4]==="r"?"#ff1a1a":"#1f7a1f").attr("stroke-width",m[4]==="r"?2.6:3.2).attr("stroke-linecap","round");});}
marks(panels.rsi5,rsi5Marks); marks(panels.rsi14,rsi14Marks); marks(panels.macd,macdMarks);
marks(panels.sto,stoMarks); marks(panels.roc,rocMarks); marks(panels.mfi,mfiMarks); marks(panels.cci,cciMarks);
priceTrends.forEach(tr=>{
  const l=layerTop.append("line").attr("x1",x(tr.p[0][0])).attr("y1",py(tr.p[0][1])).attr("x2",x(tr.p[1][0])).attr("y2",py(tr.p[1][1]));
  if(tr.k==="thick") l.attr("stroke","#8e1010").attr("stroke-width",4);
  else if(tr.k==="thin") l.attr("stroke","#555").attr("stroke-width",1);
  else if(tr.k==="dashK") l.attr("stroke","#444").attr("stroke-width",1).attr("stroke-dasharray","3,2");
  else l.attr("stroke","#c06060").attr("stroke-width",1).attr("stroke-dasharray","3,2");
});

Object.entries(lastBoxes).forEach(([key,list])=>{
  const pp=panels[key];
  list.forEach(b=>{
    const yy=pp.y(b[0]); const w=b[1].length*4.1+3;
    layerTop.append("path").attr("d",`M915.5,${yy} L920,${yy-5} L${920+w},${yy-5} L${920+w},${yy+5} L920,${yy+5} Z`).attr("fill","#fff").attr("stroke",b[2]).attr("stroke-width",1);
    layerTop.append("text").attr("x",921.5).attr("y",yy+2.8).attr("font-size",b[4]?6.9:7.2).attr("font-weight",b[4]?"bold":"normal").attr("fill",b[3]||"#222").text(b[1]);
  });
});

function icon(yy,type,col){
  if(type==="area") layerTop.append("path").attr("d",`M15,${yy} L17,${yy-5} L19,${yy-2} L21,${yy-6} L22,${yy} Z`).attr("fill",col||"#4f8f4f");
  else if(type==="candle"){layerTop.append("rect").attr("x",15).attr("y",yy-6).attr("width",2).attr("height",6).attr("fill","#444");layerTop.append("rect").attr("x",19).attr("y",yy-5).attr("width",2).attr("height",5).attr("fill","#444");}
  else layerTop.append("line").attr("x1",14.5).attr("x2",21).attr("y1",yy-3).attr("y2",yy-3).attr("stroke",col||"#333").attr("stroke-width",2);
}
function title(yy,type,parts,icol){
  icon(yy,type,icol);
  const t=layerTop.append("text").attr("x",24).attr("y",yy).attr("font-size",8.2).attr("fill","#444");
  parts.forEach(pp=>t.append("tspan").attr("fill",pp[1]||"#444").text(pp[0]));
}
title(30,"area",[["RSI(5) 23.59"]]);
title(173,"area",[["RSI(14) 49.05"]]);
title(316,"line",[["MACD(12,26,9) 3.806, "],["5.220","#f09040"],[", "],["-1.414","#3a9a3a"]]);
title(460,"candle",[["$SPX (30 min) 2387.45"]]);
title(468.5,"line",[["MA(100) 2361.83","#50508a"]],"#50508a");
title(477,"line",[["MA(200) 2357.94","#e04040"]],"#e04040");
title(485.5,"area",[["BB(20,2.0) 2386.17 - 2391.88 - 2397.60","#d4a050"]],"#d9c9a0");
title(880.5,"line",[["Slow STO %K(14) %D(3) 39.71, "],["49.17","#f09040"]]);
title(1024,"line",[["ROC(12) -0.15%"]]);
title(1167,"area",[["MFI(14) 49.20"]]);
title(1311,"area",[["CCI(20) -72.94"]]);
title(1449,"line",[["ADX(14) 42.80"]]);

const hd = layerTop;
const LIB = "'Liberation Sans',Arial,sans-serif";
hd.append("text").attr("x",13).attr("y",11).style("font-family",LIB).attr("font-size",10.5).attr("font-weight","bold").attr("fill","#111").text("$SPX");
hd.append("text").attr("x",41).attr("y",10.5).style("font-family",LIB).attr("font-size",8.2).attr("fill","#333").text("S&P 500 Large Cap Index");
hd.append("text").attr("x",141).attr("y",10.5).style("font-family",LIB).attr("font-size",6.8).attr("fill","#555").text("INDX");
hd.append("text").attr("x",13).attr("y",20).style("font-family",LIB).attr("font-size",8.4).attr("fill","#333").text("26-Apr-2017");
hd.append("text").attr("x",915).attr("y",9).attr("text-anchor","end").style("font-family",LIB).attr("font-size",8.6).attr("fill","#666").text("© StockCharts.com");
const st = hd.append("text").attr("x",908).attr("y",19.5).attr("text-anchor","end").style("font-family",LIB).attr("font-size",8.4).attr("fill","#333").attr("xml:space","preserve");
[["Open",1],[" 2388.98  ",0],["High",1],[" 2398.16  ",0],["Low",1],[" 2386.76  ",0],["Close",1],[" 2387.46  ",0],["Volume",1],[" 2.2B  ",0],["Chg",1],[" -1.16 (-0.05%)",0]]
 .forEach(s=>st.append("tspan").attr("font-weight",s[1]?"bold":"normal").text(s[0]));
hd.append("path").attr("d","M910,15 L916,15 L913,19 Z").attr("fill","#5560a0");
</script></body></html>
